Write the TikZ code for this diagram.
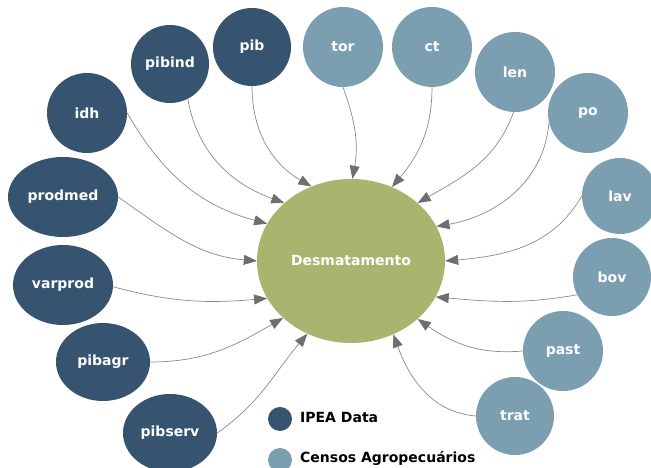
\documentclass[tikz,border=0pt]{standalone}
\usepackage{fontspec}
\setmainfont{DejaVu Sans}
\usetikzlibrary{shapes.geometric,arrows.meta}

\definecolor{ipea}{HTML}{36536F}
\definecolor{censo}{HTML}{7B9EB1}
\definecolor{desmat}{HTML}{A9B56F}
\definecolor{linkgray}{HTML}{8A8A8A}
\definecolor{tipgray}{HTML}{6E6E6E}

\tikzset{
  var/.style={ellipse, inner sep=0pt, text=white,
    font=\fontsize{14}{16}\selectfont\bfseries},
  ipeanode/.style={var, fill=ipea},
  censonode/.style={var, fill=censo},
  rad/.style={minimum width=2*#1, minimum height=2*#1},
  link/.style={draw=linkgray, line width=0.7pt,
    -{Triangle[length=13pt, width=10pt, color=tipgray]}},
  legtext/.style={anchor=west, inner sep=0pt,
    font=\fontsize{14}{16}\selectfont\bfseries}
}

\begin{document}
\begin{tikzpicture}[x=1pt, y=1pt]
\useasboundingbox (0,0) rectangle (651,468);

% central variable
\node[ellipse, fill=desmat, minimum width=188, minimum height=164, inner sep=0pt,
  text=white, font=\fontsize{14}{16}\selectfont\bfseries] (desm) at (351,207) {Desmatamento};

% IPEA Data variables
\node[ipeanode, rad=39] (pib) at (252,421) {pib};
\node[ipeanode, rad=39] (pibind) at (170,404) {pibind};
\node[ipeanode, rad=40] (idh) at (87,355) {idh};
\node[ipeanode, minimum width=110, minimum height=80] (prodmed) at (63,271) {prodmed};
\node[ipeanode, minimum width=100, minimum height=80] (varprod) at (63,183) {varprod};
\node[ipeanode, minimum width=94, minimum height=78] (pibagr) at (103,106) {pibagr};
\node[ipeanode, minimum width=94, minimum height=78] (pibserv) at (170,35) {pibserv};

% Censos Agropecuarios variables
\node[censonode, rad=40] (tor) at (343,421) {tor};
\node[censonode, rad=40] (ct) at (432,421) {ct};
\node[censonode, rad=40] (len) at (515,396) {len};
\node[censonode, rad=40] (po) at (588,355) {po};
\node[censonode, rad=38] (lav) at (620,272) {lav};
\node[censonode, rad=39] (bov) at (612,191) {bov};
\node[censonode, rad=40] (past) at (563,117) {past};
\node[censonode, rad=39] (trat) at (515,52) {trat};

% links into the central node
\draw[link] (pib.-90) to[out=-90, in=150] (desm.118);
\draw[link] (pibind.-63) to[out=-80, in=160] (desm.139);
\draw[link] (idh.0) to[out=-60, in=165] (desm.156);
\draw[link] (prodmed.0) to[out=-35, in=175] (desm.180);
\draw[link] (varprod.-2) to[out=-15, in=185] (desm.204);
\draw[link] (pibagr.0) to[out=0, in=210] (desm.220);
\draw[link] (pibserv.0) to[out=35, in=230] (desm.239);

\draw[link] (tor.-90) to[out=-70, in=80] (desm.89);
\draw[link] (ct.-90) to[out=-90, in=50] (desm.61);
\draw[link] (len.-92) to[out=-110, in=30] (desm.41);
\draw[link] (po.194) to[out=-95, in=10] (desm.22);
\draw[link] (lav.180) to[out=-120, in=5] (desm.0);
\draw[link] (bov.207) to[out=190, in=-5] (desm.-23);
\draw[link] (past.180) to[out=185, in=-35] (desm.-41);
\draw[link] (trat.180) to[out=175, in=-70] (desm.-60);

% legend
\node[circle, fill=ipea, minimum size=24, inner sep=0pt] (legipea) at (280,49) {};
\node[legtext] (legipeatext) at (300,50) {IPEA Data};
\node[circle, fill=censo, minimum size=24, inner sep=0pt] (legcenso) at (280,8) {};
\node[legtext] (legcensotext) at (300,10) {Censos Agropecuários};
\end{tikzpicture}
\end{document}
